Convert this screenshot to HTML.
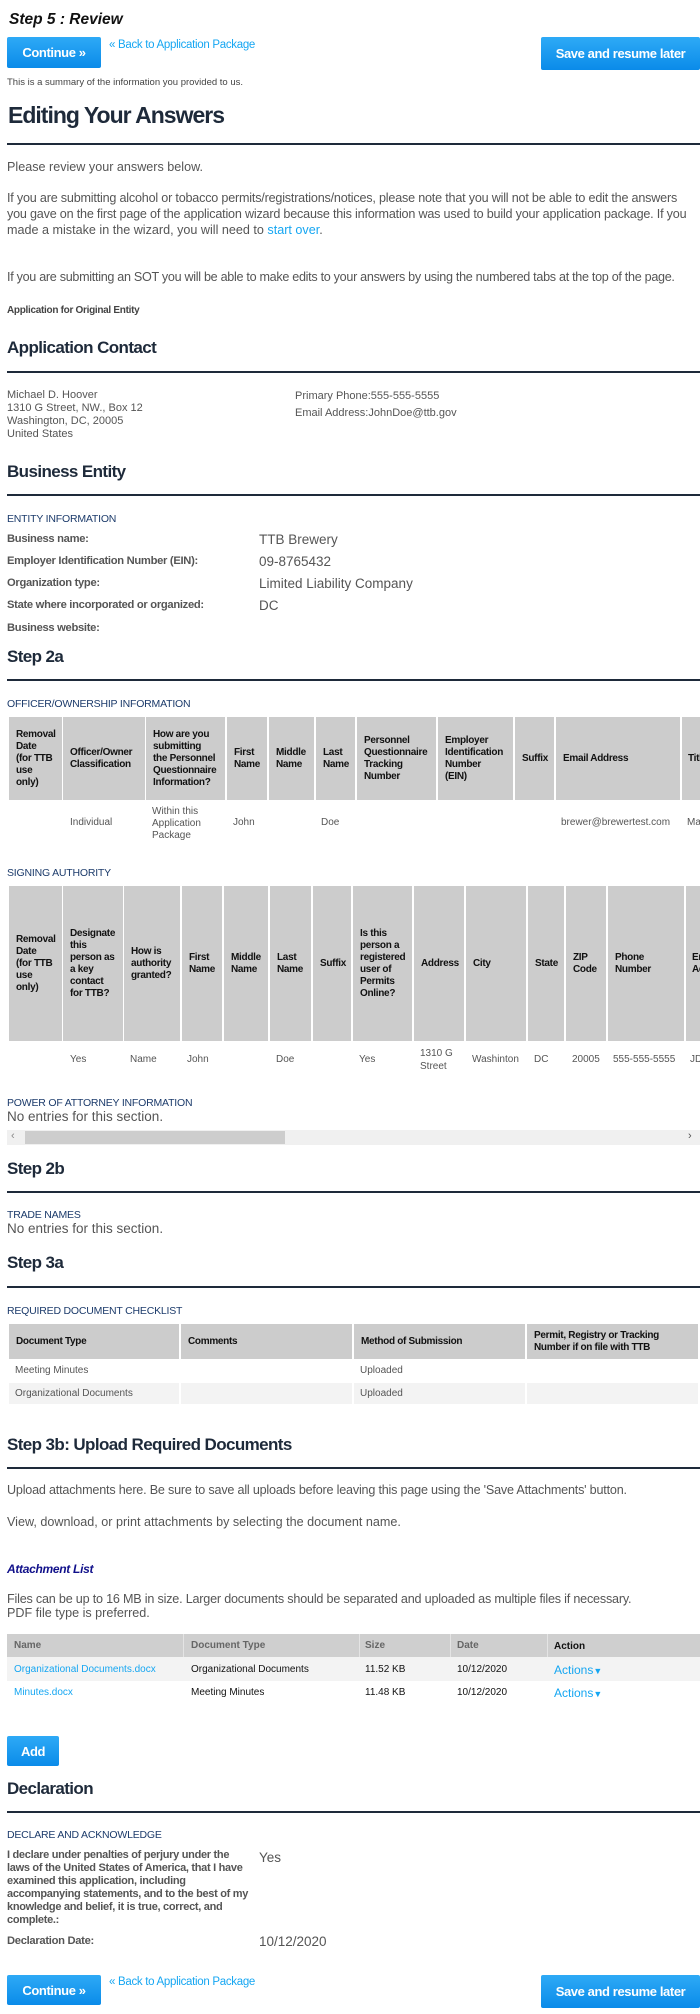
<!DOCTYPE html>
<html><head><meta charset="utf-8"><style>
*{margin:0;padding:0;box-sizing:border-box}
body{width:700px;height:2014px;position:relative;background:#fff;font-family:"Liberation Sans",sans-serif;color:#555;overflow:hidden}
.t{position:absolute;white-space:nowrap;line-height:1}
.h{color:#1e2a3a;font-size:17px;font-weight:bold;letter-spacing:-0.6px}
.hr{position:absolute;left:7px;width:693px;height:1.5px;background:#1e2a3a}
.sub{color:#1c3b6b;font-size:10.5px;letter-spacing:-0.2px}
.btn{position:absolute;background:linear-gradient(#2eaaf6,#0a8be9);color:#fff;font-weight:bold;font-size:13px;display:flex;align-items:center;justify-content:center;border-radius:2px;letter-spacing:-0.4px}
.lnk{color:#15a6f2;font-size:11.5px;letter-spacing:-0.3px}
.hc{position:absolute;background:#ccc;color:#111;font-weight:bold;font-size:10px;line-height:12px;display:flex;align-items:center;padding-left:7px;letter-spacing:-0.3px}
.d{font-size:10px;color:#555}
.lab{font-size:11.2px;font-weight:bold;color:#555;letter-spacing:-0.3px}
.val{font-size:13.5px;color:#555}
.p{font-size:12.6px;color:#555}
</style></head><body>

<div class="t" style="left:9px;top:12px;font-size:15.5px;font-weight:bold;font-style:italic;color:#111">Step 5 : Review</div>
<div class="btn" style="left:7px;top:37px;width:94px;height:31px">Continue »</div>
<div class="t lnk" style="left:109px;top:40px">« Back to Application Package</div>
<div class="btn" style="left:541px;top:37px;width:159px;height:33px">Save and resume later</div>
<div class="t" style="left:7px;top:78px;font-size:9.5px;color:#444">This is a summary of the information you provided to us.</div>
<div class="t h" style="left:8px;top:104px;font-size:23px;letter-spacing:-1px">Editing Your Answers</div>
<div class="hr" style="top:143px"></div>
<div class="t p" style="left:7px;top:161px">Please review your answers below.</div>
<div class="t p" style="left:7px;top:192px;letter-spacing:-0.2px">If you are submitting alcohol or tobacco permits/registrations/notices, please note that you will not be able to edit the answers</div>
<div class="t p" style="left:7px;top:208px;letter-spacing:-0.2px">you gave on the first page of the application wizard because this information was used to build your application package. If you</div>
<div class="t p" style="left:7px;top:224px">made a mistake in the wizard, you will need to <span style="color:#15a6f2">start over</span>.</div>
<div class="t p" style="left:7px;top:271px;letter-spacing:-0.3px">If you are submitting an SOT you will be able to make edits to your answers by using the numbered tabs at the top of the page.</div>
<div class="t" style="left:7px;top:306px;font-size:10px;font-weight:bold;color:#444;letter-spacing:-0.3px">Application for Original Entity</div>
<div class="t h" style="left:7px;top:339px">Application Contact</div>
<div class="hr" style="top:371px"></div>
<div class="t" style="left:7px;top:389px;font-size:11px;line-height:13px">Michael D. Hoover<br>1310 G Street, NW., Box 12<br>Washington, DC, 20005<br>United States</div>
<div class="t" style="left:295px;top:391px;font-size:11px">Primary Phone:555-555-5555</div>
<div class="t" style="left:295px;top:408px;font-size:11px">Email Address:JohnDoe@ttb.gov</div>

<div class="t h" style="left:7px;top:463px">Business Entity</div>
<div class="hr" style="top:494px"></div>
<div class="t sub" style="left:7px;top:514px">ENTITY INFORMATION</div>
<div class="t lab" style="left:7px;top:534px">Business name:</div>
<div class="t lab" style="left:7px;top:556px">Employer Identification Number (EIN):</div>
<div class="t lab" style="left:7px;top:578px">Organization type:</div>
<div class="t lab" style="left:7px;top:600px">State where incorporated or organized:</div>
<div class="t lab" style="left:7px;top:623px">Business website:</div>
<div class="t val" style="left:259px;top:533px">TTB Brewery</div>
<div class="t val" style="left:259px;top:555px">09-8765432</div>
<div class="t val" style="left:259px;top:577px">Limited Liability Company</div>
<div class="t val" style="left:259px;top:599px">DC</div>

<div class="t h" style="left:7px;top:648px">Step 2a</div>
<div class="hr" style="top:679px"></div>
<div class="t sub" style="left:7px;top:699px">OFFICER/OWNERSHIP INFORMATION</div>
<div class="hc" style="left:9px;top:717px;width:53px;height:83px">Removal<br>Date<br>(for TTB<br>use<br>only)</div>
<div class="hc" style="left:63px;top:717px;width:82px;height:83px">Officer/Owner<br>Classification</div>
<div class="hc" style="left:146px;top:717px;width:79px;height:83px">How are you<br>submitting<br>the Personnel<br>Questionnaire<br>Information?</div>
<div class="hc" style="left:227px;top:717px;width:40px;height:83px">First<br>Name</div>
<div class="hc" style="left:269px;top:717px;width:45px;height:83px">Middle<br>Name</div>
<div class="hc" style="left:316px;top:717px;width:39px;height:83px">Last<br>Name</div>
<div class="hc" style="left:357px;top:717px;width:79px;height:83px">Personnel<br>Questionnaire<br>Tracking<br>Number</div>
<div class="hc" style="left:438px;top:717px;width:75px;height:83px">Employer<br>Identification<br>Number<br>(EIN)</div>
<div class="hc" style="left:515px;top:717px;width:39px;height:83px">Suffix</div>
<div class="hc" style="left:556px;top:717px;width:124px;height:83px">Email Address</div>
<div class="hc" style="left:682px;top:717px;width:30px;height:83px;padding-left:6px">Title</div>
<div class="t d" style="left:70px;top:818px">Individual</div>
<div class="t d" style="left:152px;top:806px;line-height:12px">Within this<br>Application<br>Package</div>
<div class="t d" style="left:233px;top:818px">John</div>
<div class="t d" style="left:321px;top:818px">Doe</div>
<div class="t d" style="left:561px;top:818px">brewer@brewertest.com</div>
<div class="t d" style="left:687px;top:818px">Ma</div>

<div class="t sub" style="left:7px;top:868px">SIGNING AUTHORITY</div>
<div class="hc" style="left:9px;top:886px;width:53px;height:155px">Removal<br>Date<br>(for TTB<br>use<br>only)</div>
<div class="hc" style="left:63px;top:886px;width:60px;height:155px">Designate<br>this<br>person as<br>a key<br>contact<br>for TTB?</div>
<div class="hc" style="left:124px;top:886px;width:56px;height:155px">How is<br>authority<br>granted?</div>
<div class="hc" style="left:182px;top:886px;width:40px;height:155px">First<br>Name</div>
<div class="hc" style="left:224px;top:886px;width:44px;height:155px">Middle<br>Name</div>
<div class="hc" style="left:270px;top:886px;width:41px;height:155px">Last<br>Name</div>
<div class="hc" style="left:313px;top:886px;width:38px;height:155px">Suffix</div>
<div class="hc" style="left:353px;top:886px;width:59px;height:155px">Is this<br>person a<br>registered<br>user of<br>Permits<br>Online?</div>
<div class="hc" style="left:414px;top:886px;width:50px;height:155px">Address</div>
<div class="hc" style="left:466px;top:886px;width:60px;height:155px">City</div>
<div class="hc" style="left:528px;top:886px;width:36px;height:155px">State</div>
<div class="hc" style="left:566px;top:886px;width:40px;height:155px">ZIP<br>Code</div>
<div class="hc" style="left:608px;top:886px;width:76px;height:155px">Phone<br>Number</div>
<div class="hc" style="left:686px;top:886px;width:30px;height:155px;padding-left:6px">Email<br>Address</div>
<div class="t d" style="left:70px;top:1055px">Yes</div>
<div class="t d" style="left:130px;top:1055px">Name</div>
<div class="t d" style="left:187px;top:1055px">John</div>
<div class="t d" style="left:276px;top:1055px">Doe</div>
<div class="t d" style="left:359px;top:1055px">Yes</div>
<div class="t d" style="left:420px;top:1047px;line-height:13px">1310 G<br>Street</div>
<div class="t d" style="left:472px;top:1055px">Washinton</div>
<div class="t d" style="left:534px;top:1055px">DC</div>
<div class="t d" style="left:572px;top:1055px">20005</div>
<div class="t d" style="left:613px;top:1055px">555-555-5555</div>
<div class="t d" style="left:690px;top:1055px">JD</div>

<div class="t sub" style="left:7px;top:1098px">POWER OF ATTORNEY INFORMATION</div>
<div class="t val" style="left:7px;top:1110px">No entries for this section.</div>
<div style="position:absolute;left:7px;top:1130px;width:693px;height:15px;background:#f0f0f0"></div>
<div style="position:absolute;left:25px;top:1131px;width:260px;height:13px;background:#cdcdcd"></div>
<div class="t" style="left:11px;top:1131px;font-size:11px;color:#888">‹</div>
<div class="t" style="left:688px;top:1131px;font-size:11px;color:#555">›</div>

<div class="t h" style="left:7px;top:1160px">Step 2b</div>
<div class="hr" style="top:1191px"></div>
<div class="t sub" style="left:7px;top:1210px">TRADE NAMES</div>
<div class="t val" style="left:7px;top:1222px">No entries for this section.</div>

<div class="t h" style="left:7px;top:1254px">Step 3a</div>
<div class="hr" style="top:1286px"></div>
<div class="t sub" style="left:7px;top:1306px">REQUIRED DOCUMENT CHECKLIST</div>
<div class="hc" style="left:9px;top:1324px;width:170px;height:35px">Document Type</div>
<div class="hc" style="left:181px;top:1324px;width:171px;height:35px">Comments</div>
<div class="hc" style="left:354px;top:1324px;width:171px;height:35px">Method of Submission</div>
<div class="hc" style="left:527px;top:1324px;width:171px;height:35px">Permit, Registry or Tracking<br>Number if on file with TTB</div>
<div style="position:absolute;left:9px;top:1383px;width:170px;height:21px;background:#f3f3f3"></div>
<div style="position:absolute;left:181px;top:1383px;width:171px;height:21px;background:#f3f3f3"></div>
<div style="position:absolute;left:354px;top:1383px;width:171px;height:21px;background:#f3f3f3"></div>
<div style="position:absolute;left:527px;top:1383px;width:171px;height:21px;background:#f3f3f3"></div>
<div class="t d" style="left:15px;top:1366px">Meeting Minutes</div>
<div class="t d" style="left:360px;top:1366px">Uploaded</div>
<div class="t d" style="left:15px;top:1389px">Organizational Documents</div>
<div class="t d" style="left:360px;top:1389px">Uploaded</div>

<div class="t h" style="left:7px;top:1436px">Step 3b: Upload Required Documents</div>
<div class="hr" style="top:1467px"></div>
<div class="t p" style="left:7px;top:1484px;letter-spacing:-0.2px">Upload attachments here. Be sure to save all uploads before leaving this page using the 'Save Attachments' button.</div>
<div class="t p" style="left:7px;top:1516px">View, download, or print attachments by selecting the document name.</div>
<div class="t" style="left:7px;top:1563px;font-size:12px;font-weight:bold;font-style:italic;color:#10108a;letter-spacing:-0.3px">Attachment List</div>
<div class="t p" style="left:7px;top:1593px;letter-spacing:-0.2px">Files can be up to 16 MB in size. Larger documents should be separated and uploaded as multiple files if necessary.</div>
<div class="t p" style="left:7px;top:1607px">PDF file type is preferred.</div>
<div style="position:absolute;left:7px;top:1634px;width:693px;height:23px;background:#cfcfcf"></div>
<div style="position:absolute;left:183px;top:1634px;width:1px;height:23px;background:#e4e4e4"></div>
<div style="position:absolute;left:359px;top:1634px;width:1px;height:23px;background:#e4e4e4"></div>
<div style="position:absolute;left:450px;top:1634px;width:1px;height:23px;background:#e4e4e4"></div>
<div style="position:absolute;left:547px;top:1634px;width:1px;height:23px;background:#e4e4e4"></div>
<div class="t d" style="left:14px;top:1641px;font-weight:bold;color:#666">Name</div>
<div class="t d" style="left:191px;top:1641px;font-weight:bold;color:#666">Document Type</div>
<div class="t d" style="left:365px;top:1641px;font-weight:bold;color:#666">Size</div>
<div class="t d" style="left:457px;top:1641px;font-weight:bold;color:#666">Date</div>
<div class="t d" style="left:554px;top:1642px;font-weight:bold;color:#111">Action</div>
<div style="position:absolute;left:7px;top:1657px;width:693px;height:24px;background:#f3f3f3"></div>
<div class="t" style="left:14px;top:1665px;font-size:10px;color:#15a6f2">Organizational Documents.docx</div>
<div class="t" style="left:191px;top:1665px;font-size:10px;color:#111">Organizational Documents</div>
<div class="t" style="left:365px;top:1665px;font-size:10px;color:#111">11.52 KB</div>
<div class="t" style="left:457px;top:1665px;font-size:10px;color:#111">10/12/2020</div>
<div class="t" style="left:554px;top:1664px;font-size:12px;color:#15a6f2">Actions<span style="font-size:9px">▼</span></div>
<div class="t" style="left:14px;top:1688px;font-size:10px;color:#15a6f2">Minutes.docx</div>
<div class="t" style="left:191px;top:1688px;font-size:10px;color:#111">Meeting Minutes</div>
<div class="t" style="left:365px;top:1688px;font-size:10px;color:#111">11.48 KB</div>
<div class="t" style="left:457px;top:1688px;font-size:10px;color:#111">10/12/2020</div>
<div class="t" style="left:554px;top:1687px;font-size:12px;color:#15a6f2">Actions<span style="font-size:9px">▼</span></div>

<div class="btn" style="left:7px;top:1736px;width:52px;height:30px">Add</div>
<div class="t h" style="left:7px;top:1780px">Declaration</div>
<div class="hr" style="top:1811px"></div>
<div class="t sub" style="left:7px;top:1830px">DECLARE AND ACKNOWLEDGE</div>
<div class="t lab" style="left:7px;top:1849px;line-height:13px;font-size:11px">I declare under penalties of perjury under the<br>laws of the United States of America, that I have<br>examined this application, including<br>accompanying statements, and to the best of my<br>knowledge and belief, it is true, correct, and<br>complete.:</div>
<div class="t val" style="left:259px;top:1851px">Yes</div>
<div class="t lab" style="left:7px;top:1936px">Declaration Date:</div>
<div class="t val" style="left:259px;top:1935px">10/12/2020</div>

<div class="btn" style="left:7px;top:1975px;width:94px;height:30px">Continue »</div>
<div class="t lnk" style="left:109px;top:1977px">« Back to Application Package</div>
<div class="btn" style="left:541px;top:1975px;width:159px;height:33px">Save and resume later</div>
</body></html>
